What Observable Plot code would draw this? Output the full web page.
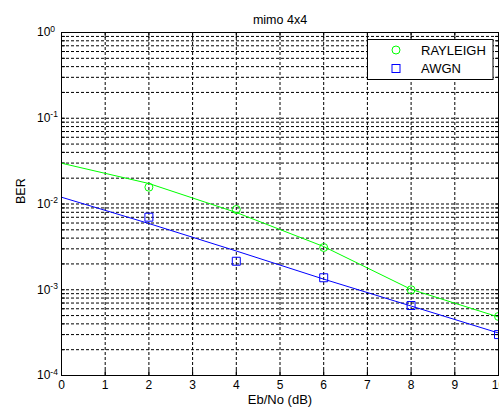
<!DOCTYPE html>
<html><head><meta charset="utf-8">
<script src="https://cdn.jsdelivr.net/npm/d3@7"></script>
<script src="https://cdn.jsdelivr.net/npm/@observablehq/plot@0.6"></script>
<style>
body{margin:0;overflow:hidden;background:#fff}
svg{font-family:"Liberation Sans",Arial,sans-serif}
</style>
</head><body><div id="chart"></div>
<script>
const title = "mimo 4x4";
const xLabel = "Eb/No (dB)";
const yLabel = "BER";
const seriesNames = ["RAYLEIGH", "AWGN"];
const seriesColors = ["#00ff00", "#0000ff"];
// measured points (markers)
const snr = [2, 4, 6, 8, 10];
const rayleigh = [0.0157, 0.00863, 0.00311, 0.0010, 0.000488];
const awgn = [0.00702, 0.00215, 0.00138, 0.000655, 0.0003];
// fitted curves (solid lines)
const fitX = [0, 2, 4, 6, 8, 10];
const rayleighFit = [0.0299, 0.01734, 0.00796, 0.00319, 0.00101, 0.000481];
const awgnFit = [0.0120, 0.00592, 0.00283, 0.00133, 0.000646, 0.000313];
const xTicks = [0, 1, 2, 3, 4, 5, 6, 7, 8, 9, 10];
const yDecades = [1e-4, 1e-3, 1e-2, 1e-1, 1];
const yExponents = ["-4", "-3", "-2", "-1", "0"];
const minorSteps = [1, 2, 3, 4, 5, 6, 7, 8, 9];

const yAll = [];
yDecades.slice(0, -1).forEach(d => minorSteps.forEach(m => yAll.push(d * m)));
yAll.push(1);
const yGrid = yAll.filter(v => v > 1e-4 && v < 1);
const xGrid = xTicks.slice(1, -1);

const pts = (xs, ys) => xs.map((x, i) => ({x, y: ys[i]}));
const dash = "3,2";

const plot = Plot.plot({
  width: 499, height: 411,
  marginLeft: 61, marginRight: 1, marginTop: 32, marginBottom: 36,
  style: {fontFamily: '"Liberation Sans", Arial, sans-serif', fontSize: "12px", color: "#000", background: "#fff"},
  x: {domain: [0, 10]},
  y: {type: "log", domain: [1e-4, 1]},
  marks: [
    Plot.ruleY(yGrid, {stroke: "#000", strokeWidth: 1, strokeDasharray: dash}),
    Plot.ruleX(xGrid, {stroke: "#000", strokeWidth: 1, strokeDasharray: dash}),
    Plot.axisY({ticks: yAll, anchor: "left", tickSize: -4, tickFormat: () => "", label: null}),
    Plot.axisY({ticks: yAll, anchor: "right", tickSize: -4, tickFormat: () => "", label: null}),
    Plot.axisX({ticks: xTicks, anchor: "bottom", tickSize: -5, tickFormat: () => "", label: null}),
    Plot.axisX({ticks: xTicks, anchor: "top", tickSize: -5, tickFormat: () => "", label: null}),
    Plot.line(pts(fitX, rayleighFit), {x: "x", y: "y", stroke: seriesColors[0], strokeWidth: 1}),
    Plot.line(pts(fitX, awgnFit), {x: "x", y: "y", stroke: seriesColors[1], strokeWidth: 1}),
    Plot.dot(pts(snr, rayleigh), {x: "x", y: "y", symbol: "circle", r: 4, stroke: seriesColors[0], fill: "none", strokeWidth: 1}),
    Plot.dot(pts(snr, awgn), {x: "x", y: "y", symbol: "square", r: 4.5, stroke: seriesColors[1], fill: "none", strokeWidth: 1}),
    Plot.frame({stroke: "#000", strokeWidth: 1}),
    Plot.axisX({ticks: xTicks, anchor: "bottom", tickSize: 0, tickPadding: 5, label: null, fontSize: 12}),
    Plot.axisY({ticks: yDecades, anchor: "left", tickSize: 0, tickPadding: 24.5, textAnchor: "start", tickFormat: () => "10", label: null, fontSize: 12}),
    Plot.text([title], {frameAnchor: "top", dy: -17, fontSize: 12.5, fill: "#000"}),
    Plot.text([xLabel], {frameAnchor: "bottom", dy: 28, fontSize: 13, fill: "#000"}),
    Plot.text([yLabel], {frameAnchor: "left", dx: -41, rotate: -90, fontSize: 12.5, fill: "#000"})
  ]
});

// superscript exponents on the decade tick labels
const svg = d3.select(plot);
const decadeLabels = svg.selectAll('g[aria-label="y-axis tick label"] text')
  .filter(function() { return this.textContent === "10"; });
decadeLabels.each(function(d, i) {
  d3.select(this).append("tspan").attr("dy", "-0.55em").attr("font-size", "8.5px").text(yExponents[i]);
});

// legend
const lg = svg.append("g").attr("class", "legend").attr("text-anchor", "start");
lg.append("rect").attr("x", 367.5).attr("y", 39.5).attr("width", 125.5).attr("height", 40)
  .attr("fill", "#fff").attr("stroke", "#000").attr("stroke-width", 1);
lg.append("circle").attr("cx", 396).attr("cy", 50).attr("r", 4)
  .attr("fill", "none").attr("stroke", seriesColors[0]);
lg.append("rect").attr("x", 392).attr("y", 64.5).attr("width", 8).attr("height", 8)
  .attr("fill", "none").attr("stroke", seriesColors[1]);
seriesNames.forEach((n, i) => {
  lg.append("text").attr("x", 421).attr("y", i === 0 ? 50 : 68.5).attr("dy", "0.35em")
    .attr("font-size", "13px").attr("fill", "#000").text(n);
});

document.getElementById("chart").appendChild(plot);
</script>
</body></html>
